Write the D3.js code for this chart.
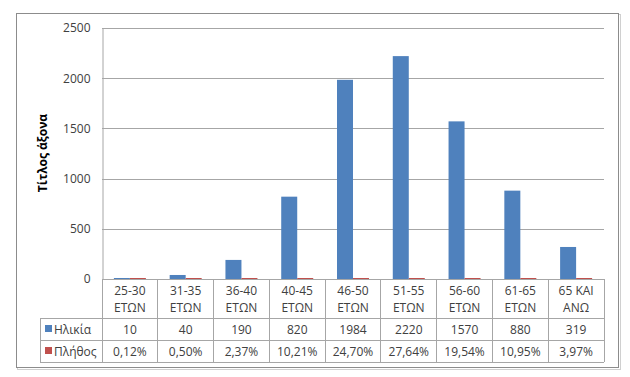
<!DOCTYPE html>
<html>
<head>
<meta charset="utf-8">
<script src="https://cdn.jsdelivr.net/npm/d3@7"></script>
<style>
  body { margin: 0; background: #fff; }
  text { font-family: "Open Sans", sans-serif; fill: #404040; }
</style>
</head>
<body>
<script>
const WIDTH = 630;
const HEIGHT = 377;

const categories = [["25-30", "ΕΤΩΝ"], ["31-35", "ΕΤΩΝ"], ["36-40", "ΕΤΩΝ"], ["40-45", "ΕΤΩΝ"], ["46-50", "ΕΤΩΝ"],
                    ["51-55", "ΕΤΩΝ"], ["56-60", "ΕΤΩΝ"], ["61-65", "ΕΤΩΝ"], ["65 ΚΑΙ", "ΑΝΩ"]];
const seriesNames = ["Ηλικία", "Πλήθος"];
const ilikia = [10, 40, 190, 820, 1984, 2220, 1570, 880, 319];
const plithos = [0.0012, 0.0050, 0.0237, 0.1021, 0.2470, 0.2764, 0.1954, 0.1095, 0.0397];
const plithosLabels = ["0,12%", "0,50%", "2,37%", "10,21%", "24,70%", "27,64%", "19,54%", "10,95%", "3,97%"];
const yTicks = [0, 500, 1000, 1500, 2000, 2500];
const COLORS = ["#4F81BD", "#C0504D"];
const GRID = "#a6a6a6";

const PLOT_L = 102, PLOT_R = 604, PLOT_T = 28, BASE = 279;
const LEGEND_L = 40;
const ROW_HEAD = 318, ROW_1 = 340, ROW_2 = 362;

const svg = d3.select("body").append("svg").attr("width", WIDTH).attr("height", HEIGHT);

// outer frame with a soft shadow
svg.append("rect").attr("x", 17.5).attr("y", 14.5).attr("width", 603).attr("height", 355)
   .attr("fill", "none").attr("stroke", "#d0d0d0");
svg.append("rect").attr("x", 16.5).attr("y", 13.5).attr("width", 602).attr("height", 354)
   .attr("fill", "#fff").attr("stroke", "#8c8c8c");

const x = d3.scaleBand().domain(d3.range(categories.length)).range([PLOT_L, PLOT_R]);
const xs = d3.scaleBand().domain([0, 1]).range([0, 32]);
const y = d3.scaleLinear().domain([0, 2500]).range([BASE, PLOT_T]);

// grid
svg.append("g").selectAll("line").data(yTicks.slice(1)).join("line")
   .attr("x1", PLOT_L).attr("x2", PLOT_R)
   .attr("y1", d => Math.round(y(d)) + 0.5).attr("y2", d => Math.round(y(d)) + 0.5)
   .attr("stroke", GRID);

// y axis
const yAxis = d3.axisLeft(y).tickValues(yTicks).tickFormat(d3.format("d")).tickSize(0).tickPadding(12);
const ya = svg.append("g").attr("transform", `translate(${PLOT_L + 0.5},0)`).call(yAxis);
ya.select(".domain").attr("stroke", GRID);
ya.selectAll("text").style("font-family", "Open Sans").style("font-size", "12px").attr("fill", "#404040");

svg.append("text").attr("transform", "translate(47,153) rotate(-90)")
   .attr("text-anchor", "middle").style("font-size", "12px").style("font-weight", "bold")
   .style("fill", "#000").text("Τίτλος άξονα");

// bars
const off = (x.bandwidth() - 32) / 2;
const series = [ilikia, plithos];
series.forEach((vals, s) => {
  svg.append("g").selectAll("rect").data(vals).join("rect")
     .attr("x", (d, i) => x(i) + off + xs(s))
     .attr("width", xs.bandwidth())
     .attr("y", d => Math.min(y(d), BASE - 1))
     .attr("height", d => Math.max(BASE - y(d), 1))
     .attr("fill", COLORS[s]);
});

// data table
const tbl = svg.append("g").attr("stroke", GRID).attr("shape-rendering", "crispEdges");
tbl.append("line").attr("x1", PLOT_L).attr("x2", PLOT_R).attr("y1", BASE).attr("y2", BASE);
[ROW_HEAD, ROW_1, ROW_2].forEach(yy => {
  tbl.append("line").attr("x1", LEGEND_L).attr("x2", PLOT_R).attr("y1", yy).attr("y2", yy);
});
tbl.append("line").attr("x1", LEGEND_L).attr("x2", LEGEND_L).attr("y1", ROW_HEAD).attr("y2", ROW_2);
d3.range(categories.length + 1).forEach(i => {
  const xx = i < categories.length ? x(i) : PLOT_R;
  tbl.append("line").attr("x1", xx).attr("x2", xx).attr("y1", BASE).attr("y2", ROW_2);
});

const cat = svg.append("g").selectAll("text").data(categories).join("text")
   .attr("text-anchor", "middle").style("font-size", "12px")
   .attr("transform", (d, i) => `translate(${x(i) + x.bandwidth() / 2},0)`);
cat.append("tspan").attr("x", 0).attr("y", 295).text(d => d[0]);
cat.append("tspan").attr("x", 0).attr("y", 312).text(d => d[1]);

const rows = [ilikia.map(String), plithosLabels];
rows.forEach((labels, r) => {
  svg.append("g").selectAll("text").data(labels).join("text")
     .attr("x", (d, i) => x(i) + x.bandwidth() / 2)
     .attr("y", r === 0 ? 334 : 356)
     .attr("text-anchor", "middle").style("font-size", "12px")
     .text(d => d);
  svg.append("rect").attr("x", 45).attr("y", (r === 0 ? 325 : 347)).attr("width", 7).attr("height", 7)
     .attr("fill", COLORS[r]);
  svg.append("text").attr("x", 54).attr("y", r === 0 ? 334 : 356)
     .style("font-size", "12px").text(seriesNames[r]);
});
</script>
</body>
</html>
